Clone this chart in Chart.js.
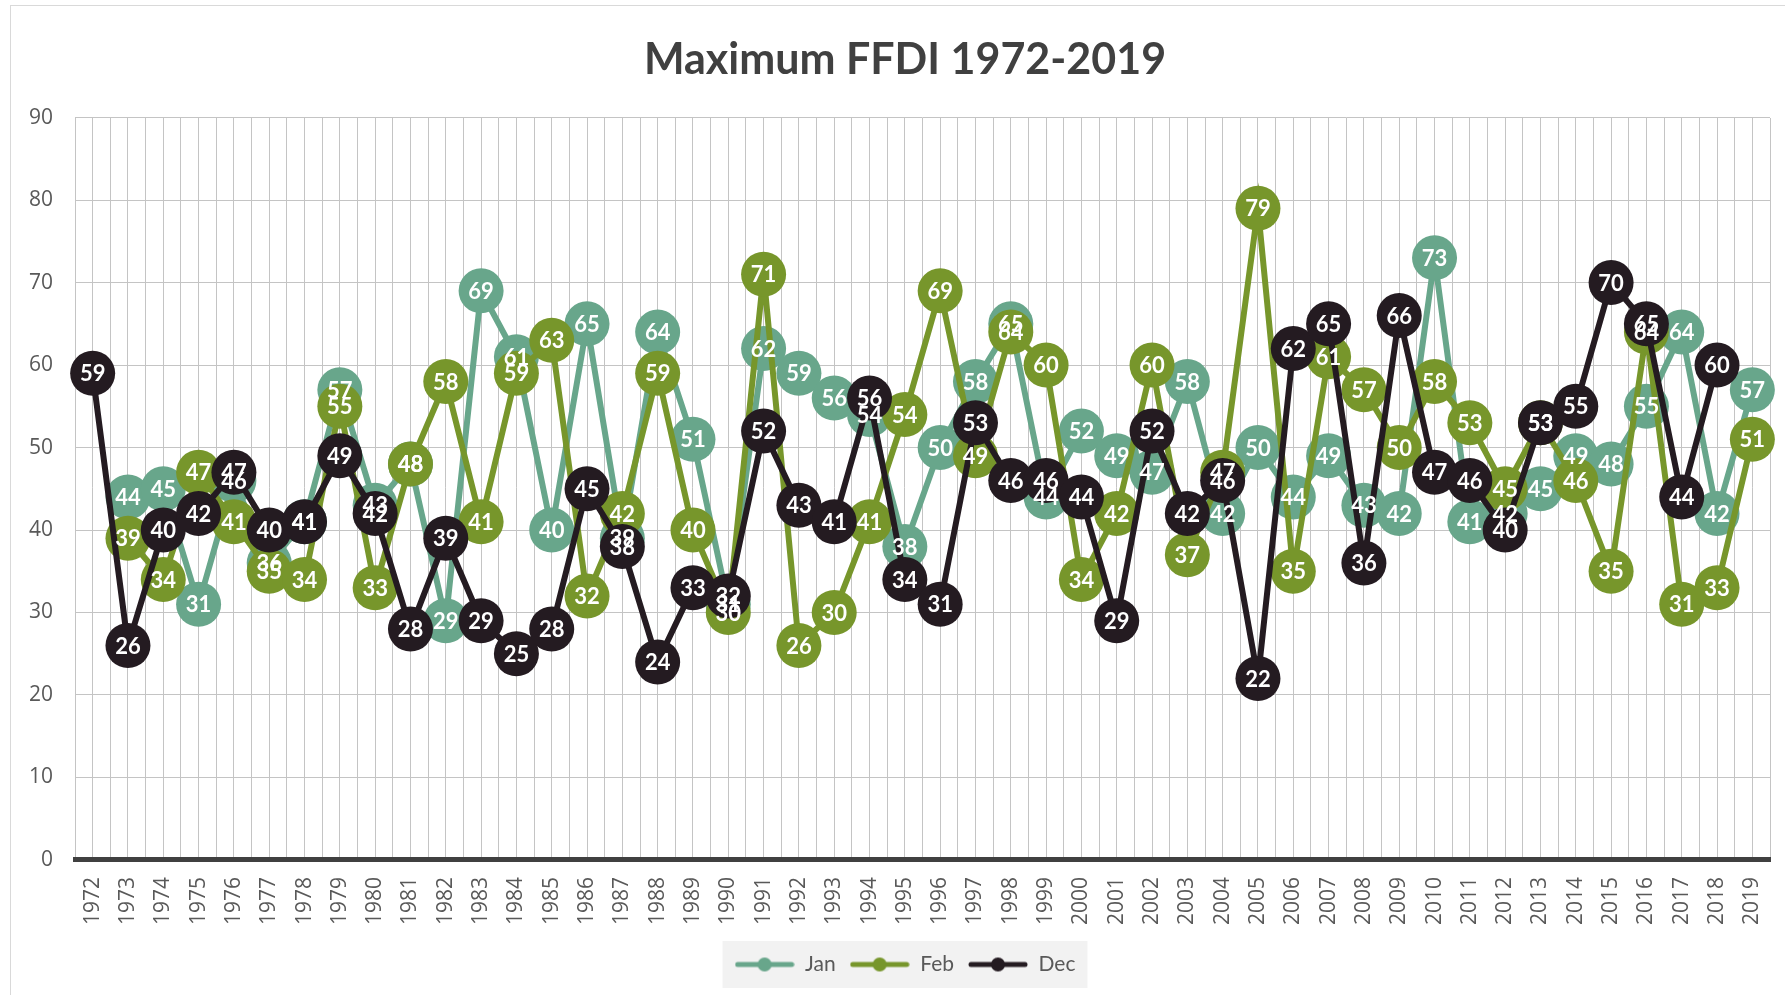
<!DOCTYPE html>
<html>
<head>
<meta charset="utf-8">
<script src="https://cdn.jsdelivr.net/npm/chart.js@4.4.0/dist/chart.umd.min.js"></script>
<style>
  html, body { margin: 0; padding: 0; background: #fff; overflow: hidden; }
  #frame { position: absolute; left: 10px; top: 5px; width: 1840px; height: 1040px; border: 1px solid #d9d9d9; }
  #wrap { position: absolute; left: 0; top: 0; width: 1810px; height: 995px; }
</style>
</head>
<body>
<div id="frame"></div>
<div id="wrap"><canvas id="ffdiChart"></canvas></div>
<script>
const years = ['1972','1973','1974','1975','1976','1977','1978','1979','1980','1981',
  '1982','1983','1984','1985','1986','1987','1988','1989','1990','1991',
  '1992','1993','1994','1995','1996','1997','1998','1999','2000','2001',
  '2002','2003','2004','2005','2006','2007','2008','2009','2010','2011',
  '2012','2013','2014','2015','2016','2017','2018','2019'];

const janFfdi = [null,44,45,31,46,36,41,57,43,48,
  29,69,61,40,65,39,64,51,31,62,
  59,56,54,38,50,58,65,44,52,49,
  47,58,42,50,44,49,43,42,73,41,
  42,45,49,48,55,64,42,57];

const febFfdi = [null,39,34,47,41,35,34,55,33,48,
  58,41,59,63,32,42,59,40,30,71,
  26,30,41,54,69,49,64,60,34,42,
  60,37,47,79,35,61,57,50,58,53,
  45,53,46,35,64,31,33,51];

const decFfdi = [59,26,40,42,47,40,41,49,42,28,
  39,29,25,28,45,38,24,33,32,52,
  43,41,56,34,31,53,46,46,44,29,
  52,42,46,22,62,65,36,66,47,46,
  40,53,55,70,65,44,60,null];

const yTicks = [0,10,20,30,40,50,60,70,80,90];

const colJan = '#68a68b';
const colFeb = '#77962b';
const colDec = '#241b21';
const gridCol = '#c4c4c4';

// legend swatch: short line with a round marker, like the spreadsheet legend
function legendIcon(color) {
  const c = document.createElement('canvas');
  c.width = 60; c.height = 16;
  const g = c.getContext('2d');
  g.strokeStyle = color;
  g.lineWidth = 5;
  g.lineCap = 'round';
  g.beginPath(); g.moveTo(3, 8); g.lineTo(57, 8); g.stroke();
  g.fillStyle = color;
  g.beginPath(); g.arc(30, 8, 7, 0, Math.PI * 2); g.fill();
  return c;
}

const pointLabels = {
  id: 'pointLabels',
  afterDatasetsDraw(chart) {
    const ctx = chart.ctx;
    ctx.save();
    ctx.font = 'bold 22px Lato';
    ctx.fillStyle = '#ffffff';
    ctx.textAlign = 'center';
    ctx.textBaseline = 'middle';
    chart.data.datasets.forEach((ds, i) => {
      chart.getDatasetMeta(i).data.forEach((pt, j) => {
        if (ds.data[j] == null) return;
        ctx.fillText(String(ds.data[j]), pt.x, pt.y + 1);
      });
    });
    ctx.restore();
  }
};

const legendBack = {
  id: 'legendBack',
  beforeDraw(chart) {
    const boxes = chart.legend && chart.legend.legendHitBoxes;
    if (!boxes || !boxes.length) return;
    let l = Infinity, r = -Infinity, t = Infinity, b = -Infinity;
    boxes.forEach(h => {
      l = Math.min(l, h.left); r = Math.max(r, h.left + h.width);
      t = Math.min(t, h.top); b = Math.max(b, h.top + h.height);
    });
    const ctx = chart.ctx;
    ctx.save();
    ctx.fillStyle = '#f2f2f2';
    ctx.fillRect(l - 12, t - 13, r - l + 24, b - t + 26);
    ctx.restore();
  }
};

function series(label, data, color, order) {
  return {
    label: label,
    data: data,
    borderColor: color,
    backgroundColor: color,
    borderWidth: 6,
    pointRadius: 22.5,
    pointHoverRadius: 22.5,
    pointBorderWidth: 0,
    pointBackgroundColor: color,
    tension: 0,
    order: order,
    clip: false
  };
}

new Chart(document.getElementById('ffdiChart'), {
  type: 'line',
  data: {
    labels: years,
    datasets: [
      series('Jan', janFfdi, colJan, 3),
      series('Feb', febFfdi, colFeb, 2),
      series('Dec', decFfdi, colDec, 1)
    ]
  },
  options: {
    responsive: true,
    maintainAspectRatio: false,
    animation: false,
    layout: { padding: { left: 0, right: 0, top: 0, bottom: 10 } },
    plugins: {
      title: {
        display: true,
        text: 'Maximum FFDI 1972-2019',
        color: '#404040',
        font: { family: 'Lato', size: 43, weight: 'bold' },
        padding: { top: 34, bottom: 32 }
      },
      legend: {
        position: 'bottom',
        labels: {
          usePointStyle: true,
          pointStyleWidth: 60,
          boxHeight: 16,
          padding: 14,
          color: '#595959',
          font: { family: 'Lato', size: 21 },
          generateLabels: (chart) => chart.data.datasets.map((ds, i) => ({
            text: ds.label,
            pointStyle: legendIcon(ds.borderColor),
            fillStyle: ds.borderColor,
            strokeStyle: ds.borderColor,
            lineWidth: 0,
            hidden: false,
            fontColor: '#595959',
            datasetIndex: i
          }))
        }
      },
      tooltip: { enabled: false }
    },
    scales: {
      x: {
        offset: true,
        grid: { offset: false, color: gridCol, drawTicks: false },
        border: { display: true, color: '#404040', width: 5 },
        afterFit: (scale) => { scale.height -= 2; },
        ticks: {
          autoSkip: false,
          minRotation: 90,
          maxRotation: 90,
          padding: 17,
          color: '#595959',
          font: { family: 'Open Sans', size: 21 }
        }
      },
      x2: {
        type: 'category',
        position: 'top',
        offset: true,
        grid: { offset: true, color: gridCol, drawTicks: false },
        border: { display: false },
        ticks: { display: false }
      },
      y: {
        min: 0,
        max: 90,
        afterBuildTicks: (scale) => { scale.ticks = yTicks.map(v => ({ value: v })); },
        afterFit: (scale) => { scale.width = 75; },
        grid: { color: gridCol, drawTicks: false },
        border: { display: false },
        ticks: {
          padding: 22,
          color: '#595959',
          font: { family: 'Open Sans', size: 21 }
        }
      },
      yRight: {
        position: 'right',
        min: 0,
        max: 90,
        afterFit: (scale) => { scale.width = 40; },
        grid: { drawOnChartArea: false, drawTicks: false },
        border: { display: false },
        ticks: { display: false }
      }
    }
  },
  plugins: [legendBack, pointLabels]
});
</script>
</body>
</html>
